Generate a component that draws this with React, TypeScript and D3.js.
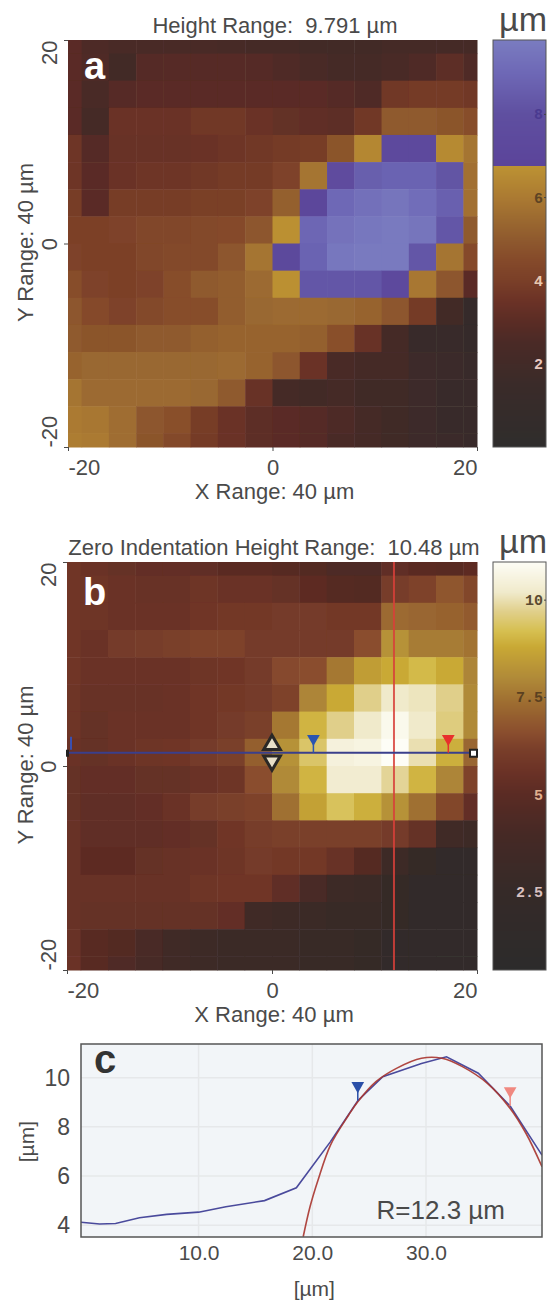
import React, { useRef, useEffect } from "react";
import * as d3 from "d3";

const W = 547;
const H = 1305;
const FONT = "'Liberation Sans', Arial, sans-serif";
const INK = "#4a4a4a";

// height map a, rows top to bottom (um)
const gridA = [
  [3, 2.6, 2.4, 2.4, 2.4, 2.4, 2.3, 2.2, 2.1, 2, 2, 2, 2.2, 2.2, 2.2, 2.1],
  [3, 2.7, 2, 2.8, 2.9, 2.9, 2.9, 2.8, 2.7, 2.4, 2.2, 2.1, 2.5, 2.7, 3.1, 2.7],
  [3, 2.5, 2.9, 3, 3, 3, 3, 3, 3, 3, 2.8, 2.7, 3.7, 3.8, 3.8, 3.7],
  [3, 2.2, 3.5, 3.5, 3.5, 3.7, 3.7, 3.5, 3.3, 3.2, 3.1, 3.7, 5, 5, 4.8, 4.6],
  [3.6, 2.8, 3.4, 3.4, 3.4, 3.5, 3.6, 3.7, 3.8, 3.9, 4.8, 6.4, 7.3, 7.4, 6.5, 5.8],
  [3.6, 3, 3.5, 3.6, 3.6, 3.7, 3.8, 3.8, 4.2, 5.8, 7.6, 8.6, 8.8, 8.8, 8.2, 5.7],
  [3.9, 3, 3.9, 3.9, 3.9, 4, 4, 4.2, 5.2, 7, 9, 9.3, 9.5, 9.2, 8.7, 5.7],
  [4.1, 4.1, 4.2, 4.3, 4.3, 4.4, 4.5, 4.9, 6.7, 8.9, 9.4, 9.6, 9.7, 9.5, 8.3, 5],
  [4.2, 4.1, 4.1, 4.3, 4.4, 4.4, 4.9, 5.8, 7.2, 8.8, 9.6, 9.7, 9.7, 8.3, 5.8, 4.5],
  [4.6, 4.2, 4.1, 4.2, 4.6, 5, 5.1, 5.5, 6.7, 8.3, 8.3, 8.3, 7.4, 5.9, 4.9, 3],
  [4.9, 4.5, 4.2, 4.4, 4.6, 4.6, 5.1, 5.4, 5.5, 5.5, 5.4, 5.3, 4.9, 3.8, 2, 0.7],
  [5, 4.8, 4.8, 5, 5, 5.2, 5.3, 5.3, 5.3, 5.2, 4.7, 3.4, 2.1, 1.4, 1.2, 1],
  [5.3, 5.4, 5.4, 5.4, 5.4, 5.4, 5.5, 5.3, 4.9, 3.5, 2.4, 2.2, 2.1, 1.6, 1.5, 1.3],
  [5.8, 5.5, 5.5, 5.5, 5.5, 5.4, 5, 3.4, 2.2, 2, 2.1, 1.9, 1.8, 1.6, 1.4, 1.3],
  [6, 5.9, 5.6, 4.9, 4.7, 3.9, 3.5, 3.1, 3, 2.8, 2.6, 2.2, 1.8, 1.6, 1.4, 1.3],
  [6.1, 6, 5.6, 4.8, 4.4, 3.8, 3.5, 3.1, 3, 2.8, 2.5, 2.1, 1.8, 1.6, 1.5, 1.3],
];

// zero indentation map b
const gridB = [
  [5.8, 5.6, 5.4, 5.3, 5.3, 5.2, 5, 5, 4.8, 4.6, 4.4, 4.4, 5.2, 5, 4.9, 5.1],
  [5.8, 5.7, 5.6, 5.5, 5.5, 5.7, 5.6, 5.6, 5.4, 5.1, 4.7, 4.6, 6.1, 6.3, 6.8, 6.4],
  [5.8, 5.7, 5.6, 5.6, 5.6, 5.8, 5.9, 5.9, 6, 6, 5.9, 5.9, 7.3, 7.2, 7.1, 6.9],
  [5.8, 5.6, 6, 6.1, 6.2, 6.3, 6.3, 6, 6, 6, 6, 6.6, 8.2, 7.7, 7.7, 7.5],
  [5.8, 5.6, 5.6, 5.6, 5.6, 5.7, 5.8, 6, 6.5, 6.6, 7.6, 8.5, 8.8, 9.1, 8.8, 7.9],
  [5.7, 5.5, 5.5, 5.5, 5.6, 5.8, 5.9, 6, 6.3, 7.9, 8.8, 9.7, 10.2, 10.1, 9.7, 8],
  [5.7, 5.4, 5.6, 5.6, 5.6, 5.8, 6, 6.2, 7.6, 9, 9.7, 10.2, 10.8, 10.2, 9.6, 8],
  [5.6, 5.4, 5.6, 5.7, 5.8, 6, 6.2, 7, 8.2, 9.4, 10.5, 10.6, 10.98, 10, 8.9, 7.2],
  [5.4, 5.3, 5.3, 5.4, 5.4, 5.6, 5.7, 6.6, 8, 9, 10.3, 10.3, 9.8, 9, 7.9, 6.3],
  [5.4, 5.2, 5.2, 5.3, 5.6, 6.1, 6.2, 6.3, 7.4, 8.6, 9.3, 8.9, 8.2, 7.4, 6.4, 5.3],
  [5.5, 5.2, 5.2, 5.2, 5.3, 5.4, 5.8, 6.1, 6.2, 6.2, 6.2, 6.2, 6, 5.4, 3.4, 3.2],
  [5.5, 5.1, 5.1, 5.4, 5.5, 5.6, 5.7, 6, 5.9, 5.9, 5.5, 4.7, 3.2, 2.5, 2, 1.6],
  [5.5, 5.5, 5.5, 5.5, 5.5, 5.7, 5.8, 5.8, 5.2, 4.2, 3.3, 3, 2.6, 2, 1.7, 1.5],
  [5.5, 5.4, 5.4, 5.4, 5.4, 5.4, 5.3, 3.4, 3.1, 2.9, 2.8, 2.7, 2.2, 1.8, 1.5, 1.4],
  [5.5, 4.9, 4.6, 4.1, 3.6, 3.1, 3, 2.9, 2.9, 2.8, 2.7, 2.4, 2, 1.6, 1.5, 1.4],
  [5.6, 4.9, 4.5, 4, 3.5, 3.1, 3, 2.9, 2.9, 2.8, 2.7, 2.4, 2, 1.6, 1.5, 1.4],
];

// colour tables
const stopsA = [0, 1.5, 2.5, 3, 3.5, 4, 4.5, 5, 5.5, 6, 6.75, 6.76, 8, 9, 9.79];
const coloursA = ["#2f2d2c", "#3a2b29", "#4a2a26", "#5a2c25", "#6b3226", "#7a3f28", "#854a2a", "#8f5a2e", "#9c6a30", "#ab7a32", "#bc9233", "#5b449a", "#5f4fa0", "#6e68b6", "#7a7cc0"];
const stopsB = [0.5, 2.5, 4, 5, 5.6, 6.2, 6.6, 7.3, 8, 8.8, 9.2, 9.7, 10.2, 10.98];
const coloursB = ["#2c2b2b", "#352a28", "#462925", "#5a2b24", "#6b3226", "#7a3f2a", "#8a4e2e", "#9c6a30", "#b08a38", "#c9a935", "#d6bf50", "#e0cf8a", "#f0eacb", "#fdfdf6"];

const ticksA = [2, 4, 6, 8];
const tickColoursA = ["#e8c8c0", "#e8c8b0", "#5e4424", "#4a3a90"];
const ticksB = [2.5, 5, 7.5, 10];
const tickLabelsB = ["2.5", "5", "7.5", "10"];
const tickColoursB = ["#d8c0c0", "#e0b090", "#5a4020", "#5a4a30"];

const axisTicks = [-20, 0, 20];

// line profile, panel c
const profileX = [-0.34, 1.3, 2.7, 4.8, 7.2, 10, 12.4, 15.8, 18.6, 21.6, 24, 26.2, 29.6, 31.8, 34.6, 37.4, 40.2];
const profileY = [4.12, 4.05, 4.07, 4.3, 4.44, 4.53, 4.75, 5, 5.52, 7.4, 9.06, 10.04, 10.58, 10.85, 10.18, 8.85, 6.85];
const fitX = [19.2, 19.8, 20.5, 21.6, 23.2, 24, 25.6, 27.4, 29.6, 31.4, 33.2, 35.4, 37.4, 38.8, 40.2];
const fitY = [3.53, 4.75, 5.83, 7.26, 8.48, 9.02, 9.84, 10.38, 10.79, 10.79, 10.45, 9.77, 8.75, 7.73, 6.38];
const profileTicksX = [10, 20, 30];
const profileTicksY = [4, 6, 8, 10];

const drawMap = (svg, o) => {
  const x = d3.scaleLinear().domain([-20, 20]).range([o.left, o.right]);
  const y = d3.scaleLinear().domain([-20, 20]).range([o.bottom, o.top]);
  const color = d3.scaleLinear().domain(o.stops).range(o.colours);
  const step = 40 / 15;
  const clampV = (v) => Math.max(-20, Math.min(20, v));

  const g = svg.append("g");
  const cells = g.append("g").attr("filter", "url(#soft)");
  o.grid.forEach((row, r) => {
    row.forEach((v, c) => {
      const cx = -20 + c * step;
      const cy = 20 - r * step;
      const x0 = x(clampV(cx - step / 2));
      const x1 = x(clampV(cx + step / 2));
      const y0 = y(clampV(cy + step / 2));
      const y1 = y(clampV(cy - step / 2));
      cells
        .append("rect")
        .attr("x", x0)
        .attr("y", y0)
        .attr("width", x1 - x0 + 0.5)
        .attr("height", y1 - y0 + 0.5)
        .attr("fill", color(v));
    });
  });

  // axes
  const xAxis = g
    .append("g")
    .attr("transform", `translate(0,${o.bottom})`)
    .call(d3.axisBottom(x).tickValues(axisTicks).tickSize(4).tickFormat(String));
  xAxis.select(".domain").remove();
  xAxis
    .selectAll("text")
    .attr("y", 10)
    .attr("dy", "0.8em")
    .attr("text-anchor", (d) => (d === -20 ? "start" : d === 20 ? "end" : "middle"));

  const yAxis = g
    .append("g")
    .attr("transform", `translate(${o.left},0)`)
    .call(d3.axisLeft(y).tickValues(axisTicks).tickSize(4).tickFormat(String));
  yAxis.select(".domain").remove();
  yAxis
    .selectAll("text")
    .attr("x", 0)
    .attr("y", 0)
    .attr("dy", 0)
    .attr("transform", "translate(-11,0) rotate(-90)")
    .attr("text-anchor", (d) => (d === -20 ? "start" : d === 20 ? "end" : "middle"));

  [xAxis, yAxis].forEach((a) => {
    a.selectAll("text").attr("fill", INK).style("font-family", FONT).style("font-size", "22px");
    a.selectAll("line").attr("stroke", INK);
  });

  g.append("text")
    .attr("x", o.titleX)
    .attr("y", o.top - 7)
    .attr("text-anchor", "middle")
    .attr("fill", INK)
    .style("font-family", FONT)
    .style("font-size", "22px")
    .style("white-space", "pre")
    .text(o.title);

  g.append("text")
    .attr("x", x(0) + 2)
    .attr("y", o.bottom + 52)
    .attr("text-anchor", "middle")
    .attr("fill", INK)
    .style("font-family", FONT)
    .style("font-size", "22px")
    .text("X Range: 40 µm");

  g.append("text")
    .attr("transform", `translate(33,${y(0) - 1}) rotate(-90)`)
    .attr("text-anchor", "middle")
    .attr("fill", INK)
    .style("font-family", FONT)
    .style("font-size", "22px")
    .text("Y Range: 40 µm");

  g.append("text")
    .attr("x", o.left + 16)
    .attr("y", o.top + o.letterDy)
    .attr("fill", "#fff")
    .style("font-family", FONT)
    .style("font-weight", "bold")
    .style("font-size", "38px")
    .text(o.letter);

  // colour bar
  const yBar = d3.scaleLinear().domain(o.barDomain).range([o.bottom, o.top]);
  const bar = g.append("g");
  d3.range(o.top, o.bottom).forEach((py) => {
    bar
      .append("rect")
      .attr("x", o.barLeft)
      .attr("y", py)
      .attr("width", o.barRight - o.barLeft)
      .attr("height", py === o.bottom - 1 ? 1 : 1.5)
      .attr("fill", color(yBar.invert(py + 0.5)));
  });
  g.append("rect")
    .attr("x", o.barLeft)
    .attr("y", o.top)
    .attr("width", o.barRight - o.barLeft)
    .attr("height", o.bottom - o.top)
    .attr("fill", "none")
    .attr("stroke", "#555")
    .attr("stroke-width", 1);

  o.barTicks.forEach((t, i) => {
    g.append("text")
      .attr("x", o.barRight - 3)
      .attr("y", yBar(t) + 5)
      .attr("text-anchor", "end")
      .attr("fill", o.barTickColours[i])
      .style("font-family", "'Liberation Mono', monospace")
      .style("font-weight", "bold")
      .style("font-size", "15px")
      .text(o.barLabels ? o.barLabels[i] : String(t));
    g.append("line")
      .attr("x1", o.barRight - 2)
      .attr("x2", o.barRight)
      .attr("y1", yBar(t))
      .attr("y2", yBar(t))
      .attr("stroke", "#444");
  });

  g.append("text")
    .attr("x", 547)
    .attr("y", o.top - 9)
    .attr("text-anchor", "end")
    .attr("fill", INK)
    .style("font-family", FONT)
    .style("font-size", "34px")
    .text("µm");

  return { x, y };
};

const App = () => {
  const svgRef = useRef();

  useEffect(() => {
    const svg = d3.select(svgRef.current);
    svg.selectAll("*").remove();

    svg
      .append("defs")
      .append("filter")
      .attr("id", "soft")
      .attr("x", "-2%")
      .attr("y", "-2%")
      .attr("width", "104%")
      .attr("height", "104%")
      .append("feGaussianBlur")
      .attr("stdDeviation", 0.5);

    drawMap(svg, {
      grid: gridA,
      stops: stopsA,
      colours: coloursA,
      left: 68,
      right: 477,
      top: 40,
      bottom: 447,
      title: "Height Range:  9.791 µm",
      titleX: 275,
      letter: "a",
      letterDy: 39,
      barLeft: 493,
      barRight: 546,
      barDomain: [0, 9.79],
      barTicks: ticksA,
      barTickColours: tickColoursA,
    });

    const mapB = drawMap(svg, {
      grid: gridB,
      stops: stopsB,
      colours: coloursB,
      left: 67,
      right: 477,
      top: 562,
      bottom: 970,
      title: "Zero Indentation Height Range:  10.48 µm",
      titleX: 274,
      letter: "b",
      letterDy: 43,
      barLeft: 493,
      barRight: 546,
      barDomain: [0.5, 10.98],
      barTicks: ticksB,
      barLabels: tickLabelsB,
      barTickColours: tickColoursB,
    });

    // cursor lines on map b
    const cursorX = 11.9;
    const cursorY = 1.3;
    const blueMark = 4.04;
    const redMark = 17.2;
    const overlay = svg.append("g");
    overlay
      .append("line")
      .attr("x1", mapB.x(cursorX))
      .attr("x2", mapB.x(cursorX))
      .attr("y1", mapB.y(20))
      .attr("y2", mapB.y(-20))
      .attr("stroke", "#d8403a")
      .attr("stroke-width", 2)
      .attr("opacity", 0.85);
    overlay
      .append("line")
      .attr("x1", mapB.x(-20))
      .attr("x2", mapB.x(20))
      .attr("y1", mapB.y(cursorY))
      .attr("y2", mapB.y(cursorY))
      .attr("stroke", "#3a3f8c")
      .attr("stroke-width", 2);

    const tri = d3.symbol().type(d3.symbolTriangle).size(70);
    [
      [blueMark, "#2a55b0"],
      [redMark, "#e8302c"],
    ].forEach(([v, c]) => {
      const px = mapB.x(v);
      const py = mapB.y(cursorY);
      overlay
        .append("path")
        .attr("d", tri())
        .attr("transform", `translate(${px},${py - 14}) rotate(180)`)
        .attr("fill", c);
      overlay
        .append("line")
        .attr("x1", px)
        .attr("x2", px)
        .attr("y1", py - 10)
        .attr("y2", py)
        .attr("stroke", c)
        .attr("stroke-width", 1.5);
    });

    // handle at centre
    [-1, 1].forEach((dir) => {
      overlay
        .append("path")
        .attr("d", d3.symbol().type(d3.symbolTriangle).size(120)())
        .attr("transform", `translate(${mapB.x(0)},${mapB.y(cursorY) + dir * 8}) rotate(${dir > 0 ? 180 : 0})`)
        .attr("fill", "#e8e0c8")
        .attr("stroke", "#2a2826")
        .attr("stroke-width", 3);
    });

    overlay
      .append("rect")
      .attr("x", mapB.x(20) - 7)
      .attr("y", mapB.y(cursorY) - 3)
      .attr("width", 7)
      .attr("height", 7)
      .attr("fill", "#fff")
      .attr("stroke", "#222")
      .attr("stroke-width", 2);
    overlay
      .append("rect")
      .attr("x", mapB.x(-20) - 1)
      .attr("y", mapB.y(cursorY) - 3)
      .attr("width", 3)
      .attr("height", 7)
      .attr("fill", "#222");
    overlay
      .append("line")
      .attr("x1", mapB.x(-20) + 4)
      .attr("x2", mapB.x(-20) + 4)
      .attr("y1", mapB.y(cursorY) - 16)
      .attr("y2", mapB.y(cursorY) - 3)
      .attr("stroke", "#3a4fb0")
      .attr("stroke-width", 2);

    // panel c
    const left = 81;
    const right = 542;
    const top = 1044;
    const bottom = 1237;
    const x = d3.scaleLinear().domain([-0.34, 40.2]).range([left, right]);
    const y = d3.scaleLinear().domain([3.52, 11.37]).range([bottom, top]);

    const c = svg.append("g");
    c.append("rect")
      .attr("x", left)
      .attr("y", top)
      .attr("width", right - left)
      .attr("height", bottom - top)
      .attr("fill", "#f2f5f8");

    c.selectAll(".gx")
      .data(profileTicksX)
      .join("line")
      .attr("x1", (d) => x(d))
      .attr("x2", (d) => x(d))
      .attr("y1", top)
      .attr("y2", bottom)
      .attr("stroke", "#e6e8ea")
      .attr("stroke-width", 1.5);
    c.selectAll(".gy")
      .data(profileTicksY)
      .join("line")
      .attr("x1", left)
      .attr("x2", right)
      .attr("y1", (d) => y(d))
      .attr("y2", (d) => y(d))
      .attr("stroke", "#e6e8ea")
      .attr("stroke-width", 1.5);

    const clip = svg.select("defs").append("clipPath").attr("id", "plotC");
    clip.append("rect").attr("x", left).attr("y", top).attr("width", right - left).attr("height", bottom - top);

    const profile = d3
      .line()
      .x((d) => x(profileX[d]))
      .y((d) => y(profileY[d]));
    const fit = d3
      .line()
      .curve(d3.curveCatmullRom)
      .x((d) => x(fitX[d]))
      .y((d) => y(fitY[d]));

    const lines = c.append("g").attr("clip-path", "url(#plotC)");
    lines
      .append("path")
      .attr("d", profile(d3.range(profileX.length)))
      .attr("fill", "none")
      .attr("stroke", "#4a4a9c")
      .attr("stroke-width", 1.6);
    lines
      .append("path")
      .attr("d", fit(d3.range(fitX.length)))
      .attr("fill", "none")
      .attr("stroke", "#a8342e")
      .attr("stroke-width", 1.6)
      .attr("opacity", 0.9);

    const triC = d3.symbol().type(d3.symbolTriangle).size(70);
    [
      [24, 9.06, "#2a4fa8"],
      [37.4, 8.85, "#f08880"],
    ].forEach(([vx, vy, col]) => {
      const px = x(vx);
      const py = y(vy);
      c.append("path")
        .attr("d", triC())
        .attr("transform", `translate(${px},${py - 15}) rotate(180)`)
        .attr("fill", col);
      c.append("line")
        .attr("x1", px)
        .attr("x2", px)
        .attr("y1", py - 12)
        .attr("y2", py)
        .attr("stroke", col)
        .attr("stroke-width", 1.5);
    });

    c.append("rect")
      .attr("x", left)
      .attr("y", top)
      .attr("width", right - left)
      .attr("height", bottom - top)
      .attr("fill", "none")
      .attr("stroke", "#555")
      .attr("stroke-width", 1.5);

    const xAxisC = c
      .append("g")
      .attr("transform", `translate(0,${bottom})`)
      .call(d3.axisBottom(x).tickValues(profileTicksX).tickSize(0).tickFormat(d3.format(".1f")));
    xAxisC.select(".domain").remove();
    xAxisC.selectAll("text").attr("y", 6).attr("dy", "0.8em");

    const yAxisC = c
      .append("g")
      .attr("transform", `translate(${left},0)`)
      .call(d3.axisLeft(y).tickValues(profileTicksY).tickSize(0).tickFormat(d3.format("d")));
    yAxisC.select(".domain").remove();
    yAxisC.selectAll("text").attr("x", -11);

    xAxisC.selectAll("text").attr("fill", INK).style("font-family", FONT).style("font-size", "21px");
    yAxisC.selectAll("text").attr("fill", INK).style("font-family", FONT).style("font-size", "23px");

    c.append("text")
      .attr("x", x(20) + 2)
      .attr("y", 1296)
      .attr("text-anchor", "middle")
      .attr("fill", INK)
      .style("font-family", FONT)
      .style("font-size", "21px")
      .text("[µm]");
    c.append("text")
      .attr("transform", `translate(34,${y(7.4)}) rotate(-90)`)
      .attr("text-anchor", "middle")
      .attr("fill", INK)
      .style("font-family", FONT)
      .style("font-size", "21px")
      .text("[µm]");
    c.append("text")
      .attr("x", left + 13)
      .attr("y", top + 29)
      .attr("fill", "#333")
      .style("font-family", FONT)
      .style("font-weight", "bold")
      .style("font-size", "40px")
      .text("c");
    c.append("text")
      .attr("x", 505)
      .attr("y", 1219)
      .attr("text-anchor", "end")
      .attr("fill", INK)
      .style("font-family", FONT)
      .style("font-size", "26px")
      .text("R=12.3 µm");
  }, []);

  return <svg ref={svgRef} width={W} height={H} style={{ position: "absolute", left: 0, top: 0 }}></svg>;
};

export default App;
